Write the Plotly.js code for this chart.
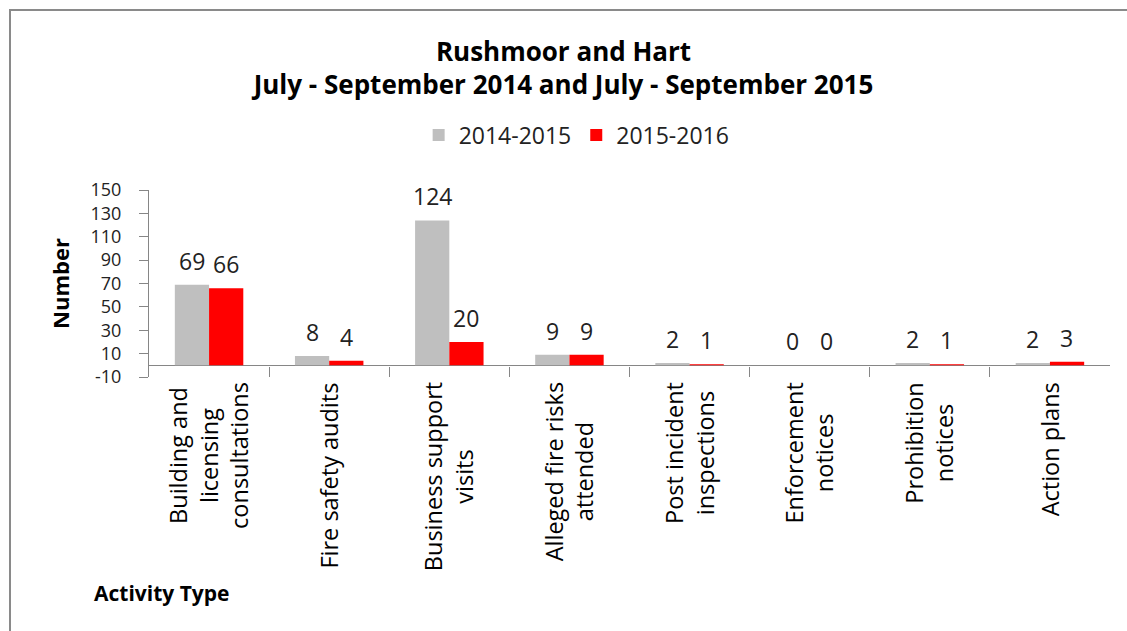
<!DOCTYPE html>
<html>
<head>
<meta charset="utf-8">
<script src="https://cdn.plot.ly/plotly-3.0.1.min.js"></script>
<style>
  html, body { margin: 0; padding: 0; background: #fff; }
  #wrap { position: relative; width: 1127px; height: 631px; overflow: hidden; }
  #chart { width: 1127px; height: 631px; }
  #frame { position: absolute; left: 9px; top: 9px; width: 1200px; height: 700px;
           border-left: 2px solid #8a8a8a; border-top: 2px solid #8a8a8a; pointer-events: none; }
</style>
</head>
<body>
<div id="wrap">
  <div id="chart"></div>
  <div id="frame"></div>
</div>
<script>
const categories = [
  "Building and<br>licensing<br>consultations",
  "Fire safety audits",
  "Business support<br>visits",
  "Alleged fire risks<br>attended",
  "Post incident<br>inspections",
  "Enforcement<br>notices",
  "Prohibition<br>notices",
  "Action plans"
];
const seriesNames = ["2014-2015", "2015-2016"];
const values2014 = [69, 8, 124, 9, 2, 0, 2, 2];
const values2015 = [66, 4, 20, 9, 1, 0, 1, 3];
const yTicks = [-10, 10, 30, 50, 70, 90, 110, 130, 150];

const colors = ["#BFBFBF", "#FF0000"];
const FONT = "Open Sans, Noto Sans, sans-serif";
const axisGray = "#868686";

const traces = [values2014, values2015].map((vals, i) => ({
  type: "bar",
  name: seriesNames[i],
  x: categories,
  y: vals,
  marker: { color: colors[i] },
  hoverinfo: "x+y"
}));

const annotations = [];
// data labels
[values2014, values2015].forEach((vals, i) => {
  vals.forEach((v, j) => {
    annotations.push({
      x: categories[j], y: v, xref: "x", yref: "y",
      text: String(v), showarrow: false,
      xshift: i === 0 ? -17 : 17, yshift: 24,
      yanchor: "middle",
      font: { family: FONT, size: 23, color: "#222" }
    });
  });
});
// category labels (rotated, lines centred like the reference)
categories.forEach((c) => {
  annotations.push({
    x: c, xref: "x", y: -0.018, yref: "paper",
    text: c, showarrow: false, textangle: -90,
    xanchor: "center", yanchor: "top", align: "center",
    font: { family: FONT, size: 23.5, color: "#000" }
  });
});
annotations.push({
  xref: "paper", yref: "paper", x: -0.059, y: -1.155,
  xanchor: "left", yanchor: "middle", showarrow: false,
  text: "<b>Activity Type</b>",
  font: { family: FONT, size: 21, color: "#000" }
});

const layout = {
  width: 1127, height: 631,
  margin: { l: 149, r: 17, t: 190, b: 254 },
  paper_bgcolor: "#fff", plot_bgcolor: "#fff",
  showlegend: true,
  title: {
    text: "<b>Rushmoor and Hart<br>July - September 2014 and July - September 2015</b>",
    font: { family: FONT, size: 26, color: "#000" },
    x: 0.5, xanchor: "center",
    y: 1 - 60.5 / 631, yref: "container", yanchor: "middle"
  },
  legend: {
    orientation: "h", x: 0.445, xanchor: "center", y: 1.294, yanchor: "middle",
    font: { family: FONT, size: 23, color: "#222" },
    traceorder: "normal"
  },
  barmode: "group",
  bargap: 0.43,
  bargroupgap: 0,
  xaxis: {
    type: "category",
    showline: false, showgrid: false, zeroline: false,
    ticks: "inside", tickson: "boundaries", ticklen: 10, tickcolor: axisGray, tickwidth: 1,
    showticklabels: false,
    automargin: false
  },
  yaxis: {
    range: [-10, 150],
    tickmode: "array", tickvals: yTicks, ticktext: yTicks.map(String),
    showline: true, linecolor: axisGray, linewidth: 1,
    ticks: "outside", ticklen: 9, tickcolor: axisGray,
    ticklabelstandoff: 14,
    showgrid: false,
    zeroline: true, zerolinecolor: axisGray, zerolinewidth: 1,
    tickfont: { family: FONT, size: 18, color: "#222" },
    title: { text: "<b>Number</b>", font: { family: FONT, size: 22, color: "#000" }, standoff: 14 },
    automargin: false
  },
  annotations: annotations
};

Plotly.newPlot("chart", traces, layout, { displayModeBar: false, staticPlot: true });
</script>
</body>
</html>
